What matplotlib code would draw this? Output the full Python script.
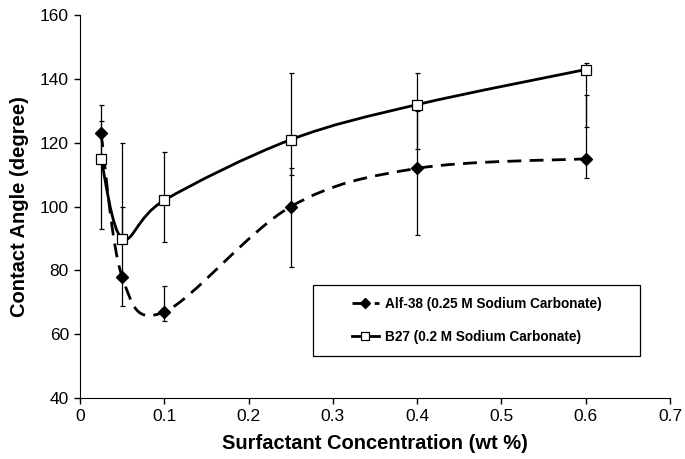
import numpy as np
import matplotlib
matplotlib.use('Agg')
import matplotlib.pyplot as plt
from matplotlib.path import Path
from matplotlib.patches import PathPatch, Rectangle
from matplotlib.lines import Line2D

plt.rcParams['font.family'] = ['Liberation Sans', 'DejaVu Sans']

# data
conc = [0.025, 0.05, 0.1, 0.25, 0.4, 0.6]
alf = [123, 78, 67, 100, 112, 115]
alf_lo = [114, 69, 64, 81, 91, 109]
alf_hi = [132, 100, 75, 112, 130, 135]
b27 = [115, 90, 102, 121, 132, 143]
b27_lo = [93, 90, 89, 110, 118, 125]
b27_hi = [127, 120, 117, 142, 142, 145]

labels = ['Alf-38 (0.25 M Sodium Carbonate)', 'B27 (0.2 M Sodium Carbonate)']


def smooth_path(x, y):
    # excel-like smoothed line: cubic bezier segments (catmull-rom control points)
    p = np.column_stack([x, y]).astype(float)
    n = len(p)
    verts = [p[0]]
    codes = [Path.MOVETO]
    for i in range(n - 1):
        p0 = p[i - 1] if i > 0 else p[i]
        p3 = p[i + 2] if i + 2 < n else p[i + 1]
        c1 = p[i] + (p[i + 1] - p0) / 6.0
        c2 = p[i + 1] - (p3 - p[i]) / 6.0
        verts += [c1, c2, p[i + 1]]
        codes += [Path.CURVE4] * 3
    return Path(verts, codes)


fig = plt.figure(figsize=(6.85, 4.59), dpi=100)
ax = fig.add_axes([80 / 685, 1 - 398 / 459, 590 / 685, 382.7 / 459])

# lines
ax.add_patch(PathPatch(smooth_path(conc, alf), fill=False, lw=2.0, ec='black',
                       ls=(0, (5, 3)), zorder=2))
ax.add_patch(PathPatch(smooth_path(conc, b27), fill=False, lw=2.0, ec='black',
                       zorder=2))

# error bars
a = np.array(alf)
b = np.array(b27)
ax.errorbar(conc, alf, yerr=[a - np.array(alf_lo), np.array(alf_hi) - a], fmt='none',
            ecolor='black', elinewidth=0.9, capsize=1.8, capthick=0.9, zorder=3)
ax.errorbar(conc, b27, yerr=[b - np.array(b27_lo), np.array(b27_hi) - b], fmt='none',
            ecolor='black', elinewidth=0.9, capsize=1.8, capthick=0.9, zorder=3)

# markers
ax.plot(conc, alf, ls='none', marker='D', ms=6.5, mfc='black', mec='black', zorder=4)
ax.plot(conc, b27, ls='none', marker='s', ms=7.5, mfc='white', mec='black', mew=0.9, zorder=4)

ax.set_xlim(0, 0.7)
ax.set_ylim(40, 160)
ax.set_xticks(np.arange(0, 0.71, 0.1))
ax.set_xticklabels(['0', '0.1', '0.2', '0.3', '0.4', '0.5', '0.6', '0.7'])
ax.set_yticks(np.arange(40, 161, 20))
ax.spines['top'].set_visible(False)
ax.spines['right'].set_visible(False)
ax.tick_params(direction='out', length=4, width=1, labelsize=12.5, pad=4)
ax.set_xlabel('Surfactant Concentration (wt %)', fontsize=14.5, fontweight='bold', labelpad=7)
ax.set_ylabel('Contact Angle (degree)', fontsize=14.5, fontweight='bold', labelpad=8)

# legend box
ax.add_patch(Rectangle((0.395, 0.11), 0.554, 0.185, transform=ax.transAxes,
                       fill=False, ec='black', lw=0.9, zorder=5))
handles = [
    Line2D([], [], color='black', lw=2, ls=(0, (5, 3)), marker='D', ms=5, mfc='black'),
    Line2D([], [], color='black', lw=2, marker='s', ms=6, mfc='white', mec='black', mew=0.9),
]
ax.legend(handles, labels, loc='center left', bbox_to_anchor=(0.44, 0.2025),
          frameon=False, prop={'weight': 'bold', 'size': 9.8},
          handlelength=2.0, handletextpad=0.4, labelspacing=1.4)

fig.savefig('out.png', dpi=100)
